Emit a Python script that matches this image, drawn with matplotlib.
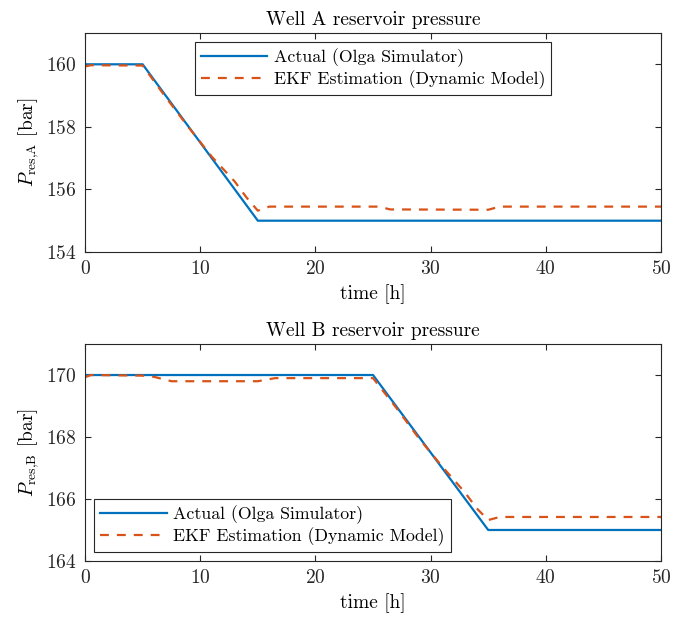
import matplotlib
matplotlib.use("Agg")
import matplotlib.pyplot as plt
import numpy as np

plt.rcParams['font.family'] = ['cmr10', 'DejaVu Serif']
plt.rcParams['mathtext.fontset'] = 'cm'
plt.rcParams['axes.formatter.use_mathtext'] = True
plt.rcParams['axes.unicode_minus'] = False

# Well A
t_act_a = [0, 5, 15, 50]
p_act_a = [160, 160, 155, 155]
t_ekf_a = [0, 0.5, 5, 7, 9, 11, 13, 14, 15, 16, 25.5, 26.5, 35, 36, 50]
p_ekf_a = [159.93, 159.97, 159.96, 158.95, 157.98, 157.05, 156.25, 155.75, 155.32,
           155.45, 155.45, 155.36, 155.35, 155.45, 155.45]

# Well B
t_act_b = [0, 25, 35, 50]
p_act_b = [170, 170, 165, 165]
t_ekf_b = [0, 0.5, 5, 6, 7.5, 15, 16.5, 25, 27, 29, 31, 33, 34, 35, 36, 50]
p_ekf_b = [169.93, 170.0, 169.98, 169.94, 169.8, 169.8, 169.9, 169.9, 168.95,
           167.95, 167.05, 166.2, 165.7, 165.32, 165.42, 165.42]

blue = (0, 0.447, 0.741)
orange = (0.85, 0.325, 0.098)
dark = (0.15, 0.15, 0.15)

fig = plt.figure(figsize=(6.83, 6.22), dpi=100)
ax1 = fig.add_axes([0.1245, 0.5949, 0.8433, 0.352])
ax2 = fig.add_axes([0.1245, 0.0981, 0.8433, 0.3488])

panels = [
    (ax1, t_act_a, p_act_a, t_ekf_a, p_ekf_a, (154, 161), [154, 156, 158, 160],
     'Well A reservoir pressure', r'$P_{\mathrm{res{,}A}}$ [bar]', 'upper center'),
    (ax2, t_act_b, p_act_b, t_ekf_b, p_ekf_b, (164, 171), [164, 166, 168, 170],
     'Well B reservoir pressure', r'$P_{\mathrm{res{,}B}}$ [bar]', 'lower left'),
]

for ax, ta, pa, te, pe, yl, yt, title, ylab, loc in panels:
    ax.plot(ta, pa, color=blue, lw=1.6, label='Actual (Olga Simulator)')
    ax.plot(te, pe, color=orange, lw=1.6, dashes=(4, 3.6),
            label='EKF Estimation (Dynamic Model)')
    ax.set_xlim(0, 50)
    ax.set_ylim(*yl)
    ax.set_xticks([0, 10, 20, 30, 40, 50])
    ax.set_yticks(yt)
    ax.tick_params(direction='in', top=True, right=True, length=4,
                   labelsize=14, colors=dark, width=0.8, pad=6)
    for s in ax.spines.values():
        s.set_color(dark)
        s.set_linewidth(0.8)
    ax.set_title(title, fontsize=14, color='black', pad=6)
    ax.set_xlabel('time [h]', fontsize=14, labelpad=4)
    ax.set_ylabel(ylab, fontsize=14, labelpad=4)
    leg = ax.legend(loc=loc, fontsize=12.8, fancybox=False, framealpha=1,
                    edgecolor=dark, borderaxespad=0.5, handlelength=3.75,
                    handletextpad=0.35, borderpad=0.35, labelspacing=0.2)
    leg.get_frame().set_linewidth(0.8)

fig.savefig('out.png', dpi=100)
